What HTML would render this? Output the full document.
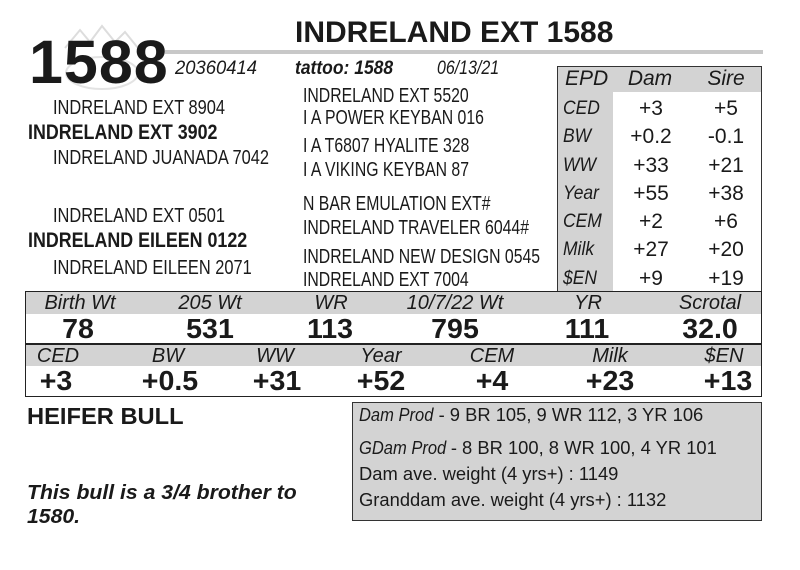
<!DOCTYPE html>
<html><head><meta charset="utf-8"><style>
body{margin:0;background:#fff;}
#c{position:relative;width:800px;height:570px;overflow:hidden;background:#fff;font-family:"Liberation Sans",sans-serif;color:#1a1a1a;}
.a{position:absolute;white-space:nowrap;line-height:1;}
.n{transform:scaleX(0.84);transform-origin:left center;}
.h{transform:translateX(-50%) scaleX(1.0);}
.v{transform:translateX(-50%) scaleX(1.02);font-size:28px !important;}
.p{font-size:20px;transform:scaleX(0.82);transform-origin:left center;}
.pm{font-size:20px;transform:scaleX(0.79);transform-origin:left center;}
.pb{font-size:21px;font-weight:bold;transform:scaleX(0.85);transform-origin:left center;}
.b{font-weight:bold;}
.i{font-style:italic;}
.g{position:absolute;background:#d3d3d3;}
.bx{font-size:18px;transform:scaleX(1.02);transform-origin:left center;}
.bx i{transform:scaleX(0.9);display:inline-block;transform-origin:left;}
</style></head><body><div id="c">
<svg class="a" style="left:60px;top:18px" width="80" height="75"><path d="M5 30 L20 12 L30 24 L42 8 L55 24 L65 14 L78 30" fill="none" stroke="#ddd" stroke-width="2"/><ellipse cx="42" cy="55" rx="36" ry="16" fill="none" stroke="#e3e3e3" stroke-width="2"/></svg>
<div class="g" style="left:165px;top:50px;width:598px;height:4px;background:#c8c8c8"></div>
<div class="a b" style="left:295px;top:18px;font-size:30px;">INDRELAND EXT 1588</div>
<div class="a b" style="left:29px;top:32px;font-size:61px;letter-spacing:1px">1588</div>
<div class="a i n" style="left:175px;top:59px;font-size:19px;transform:scaleX(0.97)">20360414</div>
<div class="a i b n" style="left:295px;top:59px;font-size:19px;transform:scaleX(0.92)">tattoo: 1588</div>
<div class="a i n" style="left:437px;top:59px;font-size:19px">06/13/21</div>

<div class="a p" style="left:53px;top:98px">INDRELAND EXT 8904</div>
<div class="a pb" style="left:28px;top:122px">INDRELAND EXT 3902</div>
<div class="a p" style="left:53px;top:148px">INDRELAND JUANADA 7042</div>
<div class="a p" style="left:53px;top:206px">INDRELAND EXT 0501</div>
<div class="a pb" style="left:28px;top:230px">INDRELAND EILEEN 0122</div>
<div class="a p" style="left:53px;top:258px">INDRELAND EILEEN 2071</div>

<div class="a pm" style="left:303px;top:86px">INDRELAND EXT 5520</div>
<div class="a pm" style="left:303px;top:108px">I A POWER KEYBAN 016</div>
<div class="a pm" style="left:303px;top:136px">I A T6807 HYALITE 328</div>
<div class="a pm" style="left:303px;top:160px">I A VIKING KEYBAN 87</div>
<div class="a pm" style="left:303px;top:194px">N BAR EMULATION EXT#</div>
<div class="a pm" style="left:303px;top:218px">INDRELAND TRAVELER 6044#</div>
<div class="a pm" style="left:303px;top:247px">INDRELAND NEW DESIGN 0545</div>
<div class="a pm" style="left:303px;top:270px">INDRELAND EXT 7004</div>

<div style="position:absolute;left:557px;top:66px;width:203px;height:224px;border:1px solid #333;border-bottom:none;"></div>
<div class="g" style="left:558px;top:67px;width:203px;height:25px"></div>
<div class="g" style="left:558px;top:67px;width:55px;height:224px"></div>
<div class="a i" style="left:565px;top:68px;font-size:21px">EPD</div>
<div class="a i h" style="left:650px;top:68px;font-size:21px">Dam</div>
<div class="a i h" style="left:726px;top:68px;font-size:21px">Sire</div>
<div class="a i" style="left:563px;top:95px;font-size:19px;line-height:28.3px;transform:scaleX(0.92);transform-origin:left">CED<br>BW<br>WW<br>Year<br>CEM<br>Milk<br>$EN</div>
<div class="a" style="left:620px;top:95px;width:62px;text-align:center;font-size:21px;line-height:28.3px">+3<br>+0.2<br>+33<br>+55<br>+2<br>+27<br>+9</div>
<div class="a" style="left:695px;top:95px;width:62px;text-align:center;font-size:21px;line-height:28.3px">+5<br>-0.1<br>+21<br>+38<br>+6<br>+20<br>+19</div>

<div style="position:absolute;left:25px;top:291px;width:735px;height:104px;border:1px solid #222;"></div>
<div class="g" style="left:26px;top:292px;width:735px;height:22px"></div>
<div style="position:absolute;left:26px;top:343px;width:735px;height:2px;background:#222"></div>
<div class="g" style="left:26px;top:345px;width:735px;height:21px"></div>
<div class="a i h" style="left:80px;top:293px;font-size:20px">Birth Wt</div>
<div class="a i h" style="left:210px;top:293px;font-size:20px">205 Wt</div>
<div class="a i h" style="left:331px;top:293px;font-size:20px">WR</div>
<div class="a i h" style="left:455px;top:293px;font-size:20px">10/7/22 Wt</div>
<div class="a i h" style="left:588px;top:293px;font-size:20px">YR</div>
<div class="a i h" style="left:710px;top:293px;font-size:20px">Scrotal</div>
<div class="a b v" style="left:78px;top:315px">78</div>
<div class="a b v" style="left:210px;top:315px">531</div>
<div class="a b v" style="left:330px;top:315px">113</div>
<div class="a b v" style="left:455px;top:315px">795</div>
<div class="a b v" style="left:587px;top:315px">111</div>
<div class="a b v" style="left:710px;top:315px">32.0</div>
<div class="a i h" style="left:58px;top:346px;font-size:20px">CED</div>
<div class="a i h" style="left:168px;top:346px;font-size:20px">BW</div>
<div class="a i h" style="left:275px;top:346px;font-size:20px">WW</div>
<div class="a i h" style="left:381px;top:346px;font-size:20px">Year</div>
<div class="a i h" style="left:492px;top:346px;font-size:20px">CEM</div>
<div class="a i h" style="left:610px;top:346px;font-size:20px">Milk</div>
<div class="a i h" style="left:724px;top:346px;font-size:20px">$EN</div>
<div class="a b v" style="left:56px;top:367px">+3</div>
<div class="a b v" style="left:170px;top:367px">+0.5</div>
<div class="a b v" style="left:277px;top:367px">+31</div>
<div class="a b v" style="left:381px;top:367px">+52</div>
<div class="a b v" style="left:492px;top:367px">+4</div>
<div class="a b v" style="left:610px;top:367px">+23</div>
<div class="a b v" style="left:728px;top:367px">+13</div>

<div class="a b n" style="left:27px;top:405px;font-size:23px;transform:scaleX(1.03)">HEIFER BULL</div>
<div class="a b i n" style="left:27px;top:481px;font-size:20px;line-height:24px;transform:scaleX(1.06)">This bull is a 3/4 brother to<br>1580.</div>

<div style="position:absolute;left:352px;top:402px;width:408px;height:117px;background:#d3d3d3;border:1px solid #333"></div>
<div class="a bx" style="left:359px;top:406px"><i style="margin-right:-8px">Dam Prod</i> - 9 BR 105, 9 WR 112, 3 YR 106</div>
<div class="a bx" style="left:359px;top:439px"><i style="margin-right:-10px">GDam Prod</i> - 8 BR 100, 8 WR 100, 4 YR 101</div>
<div class="a bx" style="left:359px;top:465px">Dam ave. weight (4 yrs+) : 1149</div>
<div class="a bx" style="left:359px;top:491px">Granddam ave. weight (4 yrs+) : 1132</div>
</div></body></html>
